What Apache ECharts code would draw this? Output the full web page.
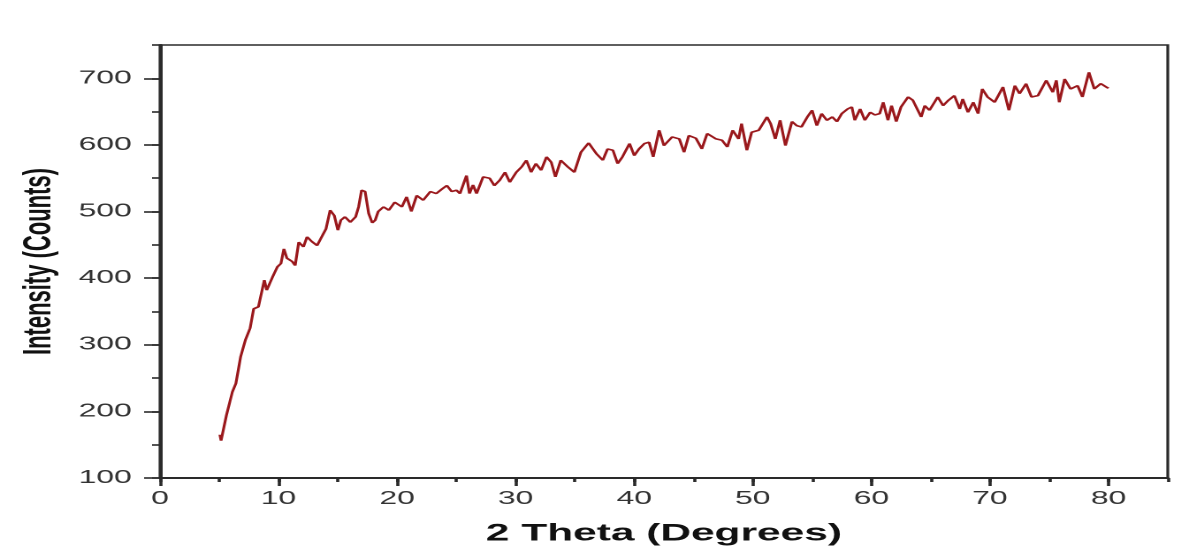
<!DOCTYPE html>
<html>
<head>
    <meta charset="utf-8">
    <title>XRD</title>
    <script src="https://cdn.jsdelivr.net/npm/echarts@6.0.0/dist/echarts.min.js"></script>
    <style>
        html, body {
            margin: 0;
            padding: 0;
            background: #ffffff;
            overflow: hidden;
        }

        /* the source picture is stretched sideways, so draw narrow and stretch */
        #chart {
            width: 672px;
            height: 548px;
            transform: scaleX(1.768);
            transform-origin: 0 0;
        }
    </style>
</head>
<body>
<div id="chart"></div>
<script>
    // 2 theta (degrees) and intensity (counts)
    var theta = [5.05, 5.15, 5.6, 5.85, 6.1, 6.4, 6.8, 7.2, 7.6, 7.9, 8.3, 8.8, 9.0, 9.5, 9.9,
        10.2, 10.45, 10.7, 11.15, 11.4, 11.7, 12.1, 12.4, 12.8, 13.25, 13.7, 14.0, 14.35, 14.7,
        15.0, 15.25, 15.6, 16.05, 16.5, 16.75, 17.0, 17.3, 17.6, 17.9, 18.15, 18.4, 18.85, 19.3,
        19.8, 20.4, 20.8, 21.2, 21.65, 22.2, 22.8, 23.3, 23.8, 24.2, 24.6, 25.0, 25.3, 25.85,
        26.1, 26.4, 26.7, 27.25, 27.8, 28.2, 28.65, 29.1, 29.5, 30.05, 30.5, 30.9, 31.3, 31.7,
        32.15, 32.6, 33.0, 33.35, 33.8, 34.4, 34.95, 35.5, 36.15, 36.8, 37.35, 37.75, 38.2, 38.6,
        39.0, 39.6, 40.0, 40.4, 40.85, 41.25, 41.6, 42.1, 42.5, 43.2, 43.8, 44.2, 44.6, 45.2,
        45.7, 46.15, 46.9, 47.4, 47.85, 48.3, 48.8, 49.05, 49.5, 49.9, 50.5, 51.2, 51.5, 51.9,
        52.3, 52.75, 53.3, 53.7, 54.1, 54.6, 55.0, 55.4, 55.8, 56.25, 56.7, 57.1, 57.5, 58.0,
        58.35, 58.6, 59.05, 59.45, 59.9, 60.3, 60.7, 61.0, 61.4, 61.7, 62.1, 62.5, 63.1, 63.5,
        64.2, 64.5, 64.9, 65.6, 66.05, 66.5, 67.0, 67.45, 67.7, 68.15, 68.6, 69.0, 69.35, 69.8,
        70.4, 71.1, 71.6, 72.1, 72.5, 73.05, 73.5, 74.05, 74.75, 75.3, 75.6, 75.85, 76.3, 76.8,
        77.4, 77.8, 78.35, 78.8, 79.35, 79.8, 80.0];
    var counts = [165, 156, 194, 196, 229, 242, 282, 307, 325, 354, 357, 397, 382, 402, 417,
        422, 444, 430, 425, 419, 454, 447, 462, 455, 449, 464, 474, 502, 494,
        472, 487, 492, 484, 492, 507, 532, 530, 497, 483, 487, 500, 507, 502,
        514, 507, 522, 500, 524, 517, 530, 527, 534, 539, 530, 532, 527, 554,
        527, 540, 527, 552, 550, 539, 547, 559, 544, 559, 567, 577, 559, 572,
        562, 582, 574, 552, 577, 567, 559, 589, 603, 587, 577, 594, 592, 572,
        582, 602, 584, 594, 602, 604, 582, 622, 599, 612, 609, 589, 614, 610,
        594, 617, 609, 607, 597, 622, 609, 632, 592, 619, 622, 642, 632, 609,
        637, 599, 635, 629, 627, 642, 652, 629, 647, 637, 642, 635, 647, 654,
        657, 637, 654, 637, 649, 645, 647, 664, 637, 659, 635, 657, 672, 667,
        642, 659, 652, 672, 659, 667, 674, 654, 669, 649, 664, 647, 684, 672,
        664, 687, 652, 689, 677, 692, 672, 674, 697, 679, 697, 664, 699, 684,
        689, 672, 709, 684, 692, 687, 685];

    var xTicks = {min: 0, max: 85, major: 10, minor: 5};
    var yTicks = {min: 100, max: 750, major: 100, minor: 50};

    var points = [];
    for (var i = 0; i < theta.length; i++) {
        points.push([theta[i], counts[i]]);
    }

    var chart = echarts.init(document.getElementById('chart'), null, {devicePixelRatio: 2});

    var ink = '#2a2a2a';
    var labelStyle = {
        color: '#333333',
        fontFamily: 'Liberation Sans, Arial, sans-serif',
        fontSize: 18
    };

    var option = {
        animation: false,
        grid: {
            left: 90.5,
            right: 11.5,
            top: 45,
            bottom: 70,
            outerBoundsMode: 'none',
            containLabel: false,
            show: true,
            borderColor: ink,
            borderWidth: 1.6,
            backgroundColor: 'transparent'
        },
        xAxis: [
            {
                type: 'value',
                min: xTicks.min,
                max: xTicks.max,
                interval: xTicks.major,
                position: 'bottom',
                name: '2 Theta (Degrees)',
                nameLocation: 'middle',
                nameGap: 44,
                nameTextStyle: {
                    color: '#111111',
                    fontFamily: 'Liberation Sans, Arial, sans-serif',
                    fontWeight: 'bold',
                    fontSize: 24
                },
                axisLine: {show: true, lineStyle: {color: ink, width: 2}},
                axisTick: {show: true, inside: false, length: 8, lineStyle: {color: ink, width: 1.8}},
                axisLabel: Object.assign({margin: 12, showMaxLabel: false}, labelStyle),
                splitLine: {show: false}
            },
            {
                // short ticks every 5 degrees
                type: 'value',
                min: xTicks.min,
                max: xTicks.max,
                interval: xTicks.minor,
                position: 'bottom',
                axisLine: {show: false},
                axisTick: {show: true, inside: false, length: 4, lineStyle: {color: ink, width: 1.8}},
                axisLabel: {show: false},
                splitLine: {show: false}
            }
        ],
        yAxis: [
            {
                type: 'value',
                min: yTicks.min,
                max: yTicks.max,
                interval: yTicks.major,
                position: 'left',
                name: 'Intensity (Counts)',
                nameLocation: 'middle',
                nameRotate: 90,
                nameGap: 49,
                nameTextStyle: {
                    color: '#111111',
                    fontFamily: 'Liberation Sans, Arial, sans-serif',
                    fontWeight: 'bold',
                    fontSize: 22
                },
                axisLine: {show: true, lineStyle: {color: ink, width: 2}},
                axisTick: {show: true, inside: false, length: 9, lineStyle: {color: ink, width: 1.6}},
                axisLabel: Object.assign({margin: 16, showMaxLabel: false}, labelStyle),
                splitLine: {show: false}
            },
            {
                // short ticks every 50 counts
                type: 'value',
                min: yTicks.min,
                max: yTicks.max,
                interval: yTicks.minor,
                position: 'left',
                axisLine: {show: false},
                axisTick: {show: true, inside: false, length: 4.5, lineStyle: {color: ink, width: 1.6}},
                axisLabel: {show: false},
                splitLine: {show: false}
            }
        ],
        series: [
            {
                type: 'line',
                xAxisIndex: 0,
                yAxisIndex: 0,
                data: points,
                showSymbol: false,
                smooth: false,
                lineStyle: {color: '#9a181c', width: 1.6}
            }
        ]
    };
    chart.setOption(option);
</script>
</body>
</html>
